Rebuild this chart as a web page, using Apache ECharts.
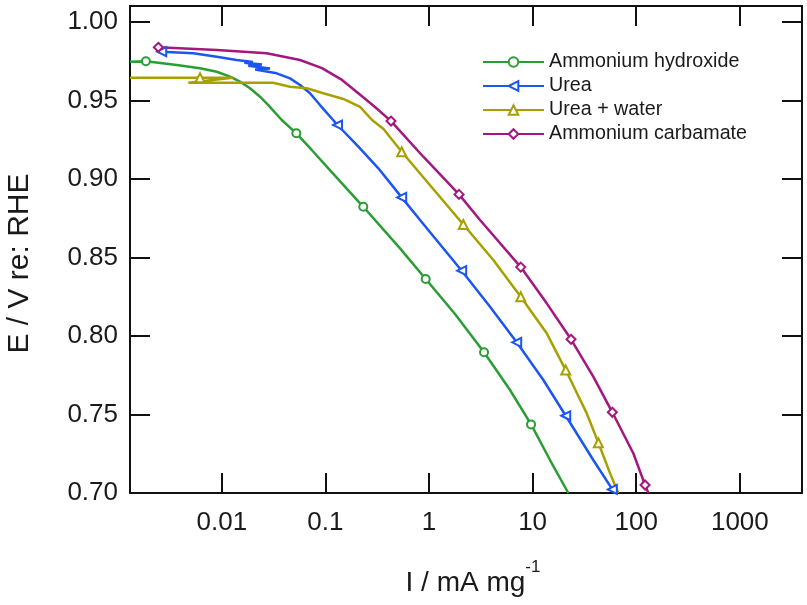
<!DOCTYPE html>
<html>
<head>
<meta charset="utf-8">
<script src="https://cdn.jsdelivr.net/npm/echarts@6/dist/echarts.min.js"></script>
<style>
html,body{margin:0;padding:0;background:#fff;}
#chart{width:807px;height:605px;}
</style>
</head>
<body>
<div id="chart"></div>
<script>
// ---- data (I in mA mg^-1, E in V vs RHE) ----
var seriesNames = ['Ammonium hydroxide', 'Urea', 'Urea + water', 'Ammonium carbamate'];

var hydroxideI = [0.0013, 0.00203, 0.00367, 0.00616, 0.00893, 0.0120, 0.0150, 0.0187, 0.0234, 0.0281, 0.0379, 0.0738, 0.1067, 0.525, 1.782, 6.05, 14.72, 22.1];
var hydroxideE = [0.9747, 0.9747, 0.9726, 0.9705, 0.9683, 0.9652, 0.9620, 0.9578, 0.9524, 0.9471, 0.9376, 0.9185, 0.9068, 0.8558, 0.8140, 0.7656, 0.7210, 0.700];
var hydroxideMarkI = [0.00185, 0.0524, 0.2321, 0.929, 3.396, 9.66];
var hydroxideMarkE = [0.9750, 0.9291, 0.8823, 0.8363, 0.7896, 0.7437];

var ureaI = [0.00531, 0.00893, 0.0139, 0.0200, 0.0165, 0.0244, 0.0180, 0.0292, 0.0210, 0.0339, 0.0455, 0.0569, 0.0710, 0.0887, 0.208, 0.3243, 0.819, 3.88, 12.69, 38.5, 62.4];
var ureaE = [0.9801, 0.9779, 0.9758, 0.9745, 0.9740, 0.9729, 0.9722, 0.9704, 0.9697, 0.9673, 0.9641, 0.9599, 0.9546, 0.9471, 0.9206, 0.9068, 0.8739, 0.8186, 0.7720, 0.7210, 0.700];
var ureaMarkI = [0.00263, 0.1309, 0.545, 2.068, 7.02, 20.87, 58.8];
var ureaMarkE = [0.9811, 0.9344, 0.8883, 0.8416, 0.7960, 0.7492, 0.7023];

var ureaWaterI = [0.0013, 0.0128, 0.00475, 0.0312, 0.0455, 0.0660, 0.0955, 0.149, 0.216, 0.282, 0.362, 4.176, 13.68, 33.3, 55.9, 67.2];
var ureaWaterE = [0.9645, 0.9645, 0.9613, 0.9613, 0.9588, 0.9578, 0.9546, 0.9510, 0.9459, 0.9376, 0.9320, 0.8484, 0.8017, 0.7507, 0.7125, 0.700];
var ureaWaterMarkI = [0.00616, 0.545, 2.143, 7.68, 20.87, 43.1];
var ureaWaterMarkE = [0.9645, 0.9174, 0.8710, 0.8250, 0.7783, 0.7320];

var carbamateI = [0.00893, 0.0271, 0.0569, 0.0927, 0.1446, 0.2064, 0.301, 0.881, 3.107, 13.68, 38.5, 93.7, 130.9];
var carbamateE = [0.9822, 0.9801, 0.9758, 0.9706, 0.9631, 0.9548, 0.9459, 0.9142, 0.8739, 0.8208, 0.7741, 0.7253, 0.700];
var carbamateMarkI = [0.00244, 0.4297, 1.948, 7.68, 23.48, 58.8, 121.7];
var carbamateMarkE = [0.9839, 0.9369, 0.8902, 0.8439, 0.7979, 0.7514, 0.7051];

var xTickValues = [0.01, 0.1, 1, 10, 100, 1000];

// ---- build ----
var FONT = 'Liberation Sans, Arial, Helvetica, sans-serif';
var TXT = '#1a1a1a';
var colors = ['#2a9e35', '#1c56f0', '#a8a000', '#a3177f'];
var symbols = ['emptyCircle', 'emptyTriangle', 'emptyTriangle', 'emptyDiamond'];
var rotates = [0, 90, 0, 0];
var sizes = [8, 9, 9, 9];

function build(ci, ce, mi, me) {
  var pts = [];
  for (var i = 0; i < ci.length; i++) pts.push({v: [ci[i], ce[i]], m: false});
  for (var j = 0; j < mi.length; j++) pts.push({v: [mi[j], me[j]], m: true});
  pts.sort(function (a, b) {
    if (b.v[1] !== a.v[1]) return b.v[1] - a.v[1];
    return a.v[0] - b.v[0];
  });
  return pts.map(function (p) {
    return p.m ? {value: p.v} : {value: p.v, symbol: 'none'};
  });
}

var dataSets = [
  build(hydroxideI, hydroxideE, hydroxideMarkI, hydroxideMarkE),
  build(ureaI, ureaE, ureaMarkI, ureaMarkE),
  build(ureaWaterI, ureaWaterE, ureaWaterMarkI, ureaWaterMarkE),
  build(carbamateI, carbamateE, carbamateMarkI, carbamateMarkE)
];

var series = seriesNames.map(function (n, i) {
  return {
    name: n,
    type: 'line',
    xAxisIndex: 0,
    yAxisIndex: 0,
    data: dataSets[i],
    showSymbol: true,
    symbol: symbols[i],
    symbolRotate: rotates[i],
    symbolSize: sizes[i],
    color: colors[i],
    lineStyle: {width: 2.5, color: colors[i]},
    itemStyle: {color: colors[i], borderWidth: 1.3},
    clip: true,
    silent: true
  };
});

function fmtLog(v) {
  var l = Math.log10(v);
  if (Math.abs(l - Math.round(l)) > 1e-6) return '';
  var p = Math.round(l);
  for (var i = 0; i < xTickValues.length; i++) {
    if (Math.round(Math.log10(xTickValues[i])) === p) return String(xTickValues[i]);
  }
  return '';
}
function fmtE(v) {
  if (Math.abs(v * 20 - Math.round(v * 20)) > 1e-6) return '';
  return v.toFixed(2);
}

var axisLine = {show: true, lineStyle: {color: '#111', width: 2}};
var tick = {show: true, inside: true, length: 20, lineStyle: {color: '#111', width: 2}};

var X_MIN = 0.0013, X_MAX = 3981, Y_MIN = 0.70, Y_MAX = 1.0102;

var option = {
  animation: false,
  backgroundColor: '#fff',
  grid: {left: 130, right: 5, top: 6, bottom: 112, containLabel: false, outerBoundsMode: 'none'},
  legend: {
    show: true,
    orient: 'vertical',
    left: 482,
    top: 52,
    padding: 0,
    itemWidth: 61,
    itemHeight: 12,
    itemGap: 4,
    data: seriesNames,
    textStyle: {fontFamily: FONT, fontSize: 19.7, color: TXT},
    inactiveColor: '#ccc'
  },
  xAxis: [
    {
      type: 'log', logBase: 10, min: X_MIN, max: X_MAX, position: 'bottom',
      axisLine: axisLine, axisTick: tick, splitLine: {show: false}, minorTick: {show: false},
      axisLabel: {formatter: fmtLog, fontFamily: FONT, fontSize: 26, color: TXT, margin: 17},
      name: '{t|I / mA mg}{s|-1}',
      nameLocation: 'middle',
      nameGap: 64,
      nameTextStyle: {
        padding: [0, 0, 0, 14],
        rich: {
          t: {fontFamily: FONT, fontSize: 28, color: TXT, padding: [12, 0, 0, 0]},
          s: {fontFamily: FONT, fontSize: 17, color: TXT, verticalAlign: 'top', padding: [2, 0, 0, 0]}
        }
      }
    },
    {
      type: 'log', logBase: 10, min: X_MIN, max: X_MAX, position: 'top',
      axisLine: axisLine, axisTick: tick, splitLine: {show: false},
      axisLabel: {show: false}
    }
  ],
  yAxis: [
    {
      type: 'value', min: Y_MIN, max: Y_MAX, interval: 0.05, position: 'left',
      axisLine: axisLine, axisTick: tick, splitLine: {show: false},
      axisLabel: {formatter: fmtE, fontFamily: FONT, fontSize: 26, color: TXT, margin: 12},
      name: 'E / V re: RHE',
      nameLocation: 'middle',
      nameGap: 95,
      nameTextStyle: {fontFamily: FONT, fontSize: 30, color: TXT, padding: [0, 28, 0, 0]}
    },
    {
      type: 'value', min: Y_MIN, max: Y_MAX, interval: 0.05, position: 'right',
      axisLine: axisLine, axisTick: tick, splitLine: {show: false},
      axisLabel: {show: false}
    }
  ],
  series: series
};

var chart = echarts.init(document.getElementById('chart'), null, {renderer: 'canvas'});
chart.setOption(option);
</script>
</body>
</html>
